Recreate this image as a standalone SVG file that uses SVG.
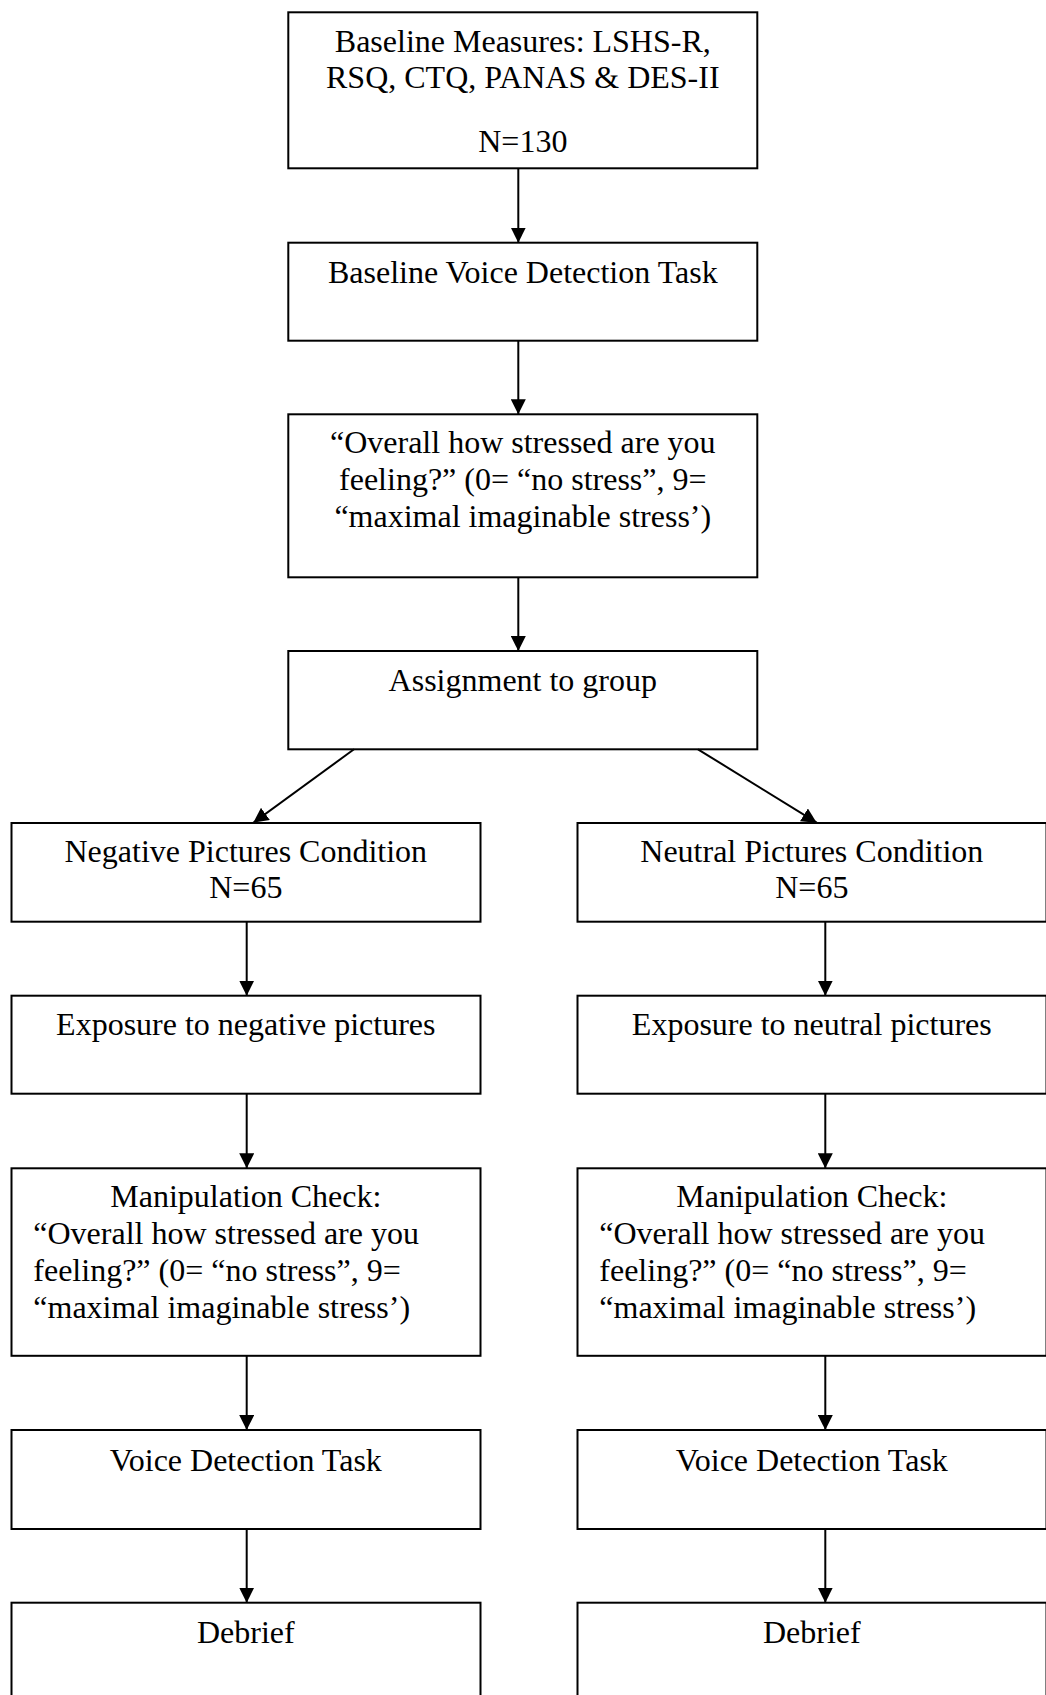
<svg xmlns="http://www.w3.org/2000/svg" width="1046" height="1695" viewBox="0 0 1046 1695">
<style>
.box{fill:#fff;stroke:#000;stroke-width:2}
.t{font-family:"Liberation Serif","Times New Roman",serif;font-size:32px;fill:#000}
.c{text-anchor:middle}
.conn line{stroke:#000;stroke-width:2;marker-end:url(#ah)}
</style>
<defs>
<marker id="ah" markerUnits="userSpaceOnUse" markerWidth="15" markerHeight="15" refX="15" refY="7.5" orient="auto">
<path d="M0,0 L15,7.5 L0,15 z" fill="#000"/>
</marker>
</defs>
<rect width="1046" height="1695" fill="#fff"/>

<g id="baseline-measures">
<rect class="box" x="288.3" y="12.3" width="469" height="156"/>
<text class="t c" x="522.8" y="52.3">Baseline Measures: LSHS-R,</text>
<text class="t c" x="522.8" y="88.3">RSQ, CTQ, PANAS &amp; DES-II</text>
<text class="t c" x="522.8" y="152.3">N=130</text>
</g>

<g id="baseline-voice">
<rect class="box" x="288.3" y="242.7" width="469" height="98"/>
<text class="t c" x="522.8" y="282.7">Baseline Voice Detection Task</text>
</g>

<g id="stress-baseline">
<rect class="box" x="288.3" y="414.3" width="469" height="163"/>
<text class="t c" x="522.8" y="453.3">“Overall how stressed are you</text>
<text class="t c" x="522.8" y="490.3">feeling?” (0= “no stress”, 9=</text>
<text class="t c" x="522.8" y="527.3">“maximal imaginable stress’)</text>
</g>

<g id="assignment">
<rect class="box" x="288.3" y="651" width="469" height="98.3"/>
<text class="t c" x="522.8" y="691.3">Assignment to group</text>
</g>

<g id="neg-condition">
<rect class="box" x="11.5" y="823" width="469" height="98.7"/>
<text class="t c" x="245.8" y="861.7">Negative Pictures Condition</text>
<text class="t c" x="245.8" y="898.3">N=65</text>
</g>

<g id="neu-condition">
<rect class="box" x="577.5" y="823" width="469" height="98.7"/>
<text class="t c" x="811.8" y="861.7">Neutral Pictures Condition</text>
<text class="t c" x="811.8" y="898.3">N=65</text>
</g>

<g id="neg-exposure">
<rect class="box" x="11.5" y="995.7" width="469" height="98"/>
<text class="t c" x="245.8" y="1035">Exposure to negative pictures</text>
</g>

<g id="neu-exposure">
<rect class="box" x="577.5" y="995.7" width="469" height="98"/>
<text class="t c" x="811.8" y="1035">Exposure to neutral pictures</text>
</g>

<g id="neg-manipulation">
<rect class="box" x="11.5" y="1168.3" width="469" height="187.5"/>
<text class="t c" x="245.8" y="1207.3">Manipulation Check:</text>
<text class="t" x="33.3" y="1244.3">“Overall how stressed are you</text>
<text class="t" x="33.3" y="1281.3">feeling?” (0= “no stress”, 9=</text>
<text class="t" x="33.3" y="1318.3">“maximal imaginable stress’)</text>
</g>

<g id="neu-manipulation">
<rect class="box" x="577.5" y="1168.3" width="469" height="187.5"/>
<text class="t c" x="811.8" y="1207.3">Manipulation Check:</text>
<text class="t" x="599.3" y="1244.3">“Overall how stressed are you</text>
<text class="t" x="599.3" y="1281.3">feeling?” (0= “no stress”, 9=</text>
<text class="t" x="599.3" y="1318.3">“maximal imaginable stress’)</text>
</g>

<g id="neg-voice">
<rect class="box" x="11.5" y="1430" width="469" height="99"/>
<text class="t c" x="245.8" y="1470.5">Voice Detection Task</text>
</g>

<g id="neu-voice">
<rect class="box" x="577.5" y="1430" width="469" height="99"/>
<text class="t c" x="811.8" y="1470.5">Voice Detection Task</text>
</g>

<g id="neg-debrief">
<rect class="box" x="11.5" y="1602.7" width="469" height="140"/>
<text class="t c" x="245.8" y="1643">Debrief</text>
</g>

<g id="neu-debrief">
<rect class="box" x="577.5" y="1602.7" width="469" height="140"/>
<text class="t c" x="811.8" y="1643">Debrief</text>
</g>

<g id="connectors" class="conn">
<line x1="518.3" y1="168.3" x2="518.3" y2="242.7"/>
<line x1="518.3" y1="340.7" x2="518.3" y2="414.3"/>
<line x1="518.3" y1="577.3" x2="518.3" y2="651"/>
<line x1="354" y1="749.3" x2="253.3" y2="822.7"/>
<line x1="698" y1="749.3" x2="816.7" y2="822.7"/>
<line x1="246.7" y1="921.7" x2="246.7" y2="995.7"/>
<line x1="825.3" y1="921.7" x2="825.3" y2="995.7"/>
<line x1="246.7" y1="1093.7" x2="246.7" y2="1168.3"/>
<line x1="825.3" y1="1093.7" x2="825.3" y2="1168.3"/>
<line x1="246.7" y1="1355.8" x2="246.7" y2="1430"/>
<line x1="825.3" y1="1355.8" x2="825.3" y2="1430"/>
<line x1="246.7" y1="1529" x2="246.7" y2="1602.7"/>
<line x1="825.3" y1="1529" x2="825.3" y2="1602.7"/>
</g>
</svg>
